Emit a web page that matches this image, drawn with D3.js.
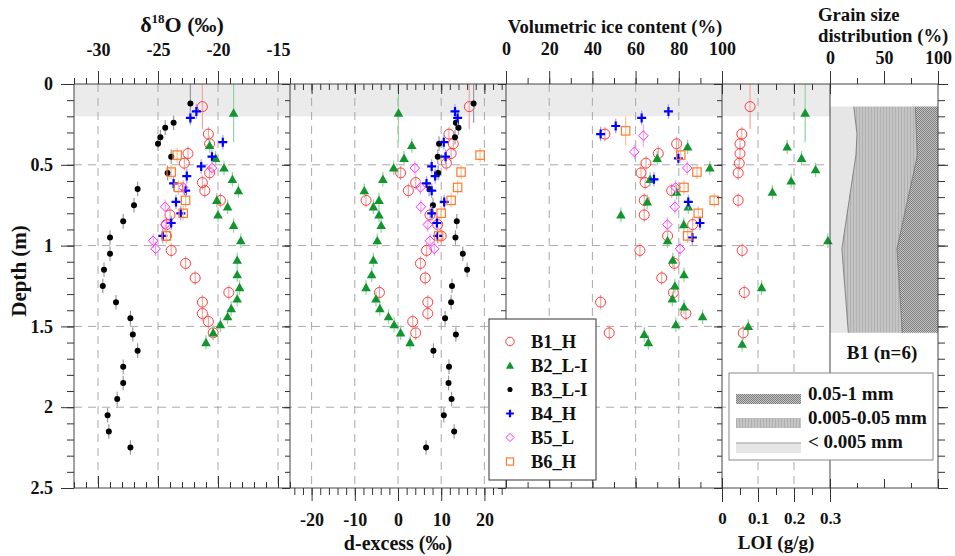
<!DOCTYPE html>
<html>
<head>
<meta charset="utf-8">
<script src="https://cdn.jsdelivr.net/npm/d3@7"></script>
<style>
  body { margin: 0; background: #fff; }
  svg { display: block; }
</style>
</head>
<body>
<svg id="chart" width="955" height="556"></svg>
<script>
// ---- data (depth in m) ----
// B1_H
const b1IsoDepth = [0.14, 0.31, 0.37, 0.43, 0.49, 0.55, 0.61, 0.66, 0.72, 0.81, 0.87, 0.94, 1.03, 1.11, 1.20, 1.29, 1.35, 1.42, 1.47, 1.54];
const b1D18O = [-21.3, -20.8, -20.7, -22.5, -22.8, -20.7, -21.3, -21.1, -19.8, -24.0, -24.3, -24.3, -23.9, -22.7, -21.9, -19.1, -21.3, -21.3, -20.8, -20.4];
const b1Dex = [16.5, 11.8, 12.8, 12.3, 11.2, 0.6, 4.1, 2.4, -7.4, 7.4, 9.2, 10.0, 6.6, 5.2, 6.3, -4.3, 6.9, 6.9, 3.4, 4.1];
const b1IceDepth = [0.31, 0.37, 0.43, 0.49, 0.55, 0.61, 0.66, 0.72, 0.81, 0.87, 0.94, 1.03, 1.11, 1.20, 1.29, 1.35, 1.42, 1.54];
const b1Ice = [45.8, 79.0, 70.5, 64.8, 62.5, 64.4, 76.7, 64.0, 64.0, 86.4, 74.8, 62.0, 77.9, 72.1, 77.5, 43.8, 83.3, 47.8];
const b1LoiDepth = [0.14, 0.31, 0.37, 0.43, 0.49, 0.55, 0.72, 1.03, 1.29, 1.54];
const b1Loi = [0.078, 0.055, 0.05, 0.05, 0.048, 0.045, 0.045, 0.056, 0.062, 0.059];

// B2_L-I
const b2IsoDepth = [0.18, 0.38, 0.46, 0.52, 0.59, 0.66, 0.72, 0.76, 0.81, 0.875, 0.97, 1.09, 1.18, 1.26, 1.33, 1.39, 1.44, 1.49, 1.54, 1.60];
const b2D18O = [-18.7, -20.7, -20.2, -19.5, -18.8, -18.3, -20.1, -19.2, -20.0, -18.7, -18.1, -18.4, -18.4, -18.2, -18.4, -18.9, -19.2, -19.8, -20.4, -21.0];
const b2Dex = [0.1, 3.2, 1.4, -1.0, -3.5, -7.8, -4.4, -5.7, -4.4, -3.9, -4.8, -5.7, -6.1, -7.4, -5.1, -4.2, -2.2, -0.9, 0.6, 2.8];
const b2IceDepth = [0.39, 0.46, 0.52, 0.59, 0.67, 0.73, 0.76, 0.81, 0.87, 0.97, 1.09, 1.18, 1.25, 1.33, 1.38, 1.44, 1.49, 1.55, 1.60];
const b2Ice = [84.1, 70.0, 94.4, 66.7, 79.0, 65.4, 84.4, 53.2, 82.3, 74.8, 77.2, 82.4, 78.2, 77.0, 82.4, 91.0, 78.6, 64.0, 65.9];
const b2LoiDepth = [0.18, 0.39, 0.46, 0.53, 0.60, 0.67, 0.97, 1.26, 1.50, 1.61];
const b2Loi = [0.231, 0.181, 0.221, 0.26, 0.192, 0.14, 0.294, 0.11, 0.073, 0.056];

// B3_L-I
const b3IsoDepth = [0.12, 0.24, 0.27, 0.33, 0.37, 0.45, 0.55, 0.65, 0.75, 0.85, 0.95, 1.05, 1.15, 1.25, 1.35, 1.45, 1.55, 1.65, 1.75, 1.85, 1.95, 2.05, 2.15, 2.25];
const b3D18O = [-22.3, -23.7, -24.4, -24.8, -25.0, -23.9, -24.2, -26.7, -27.0, -27.9, -29.0, -29.0, -29.5, -29.6, -28.5, -27.3, -27.1, -26.7, -27.9, -27.9, -28.4, -29.2, -29.1, -27.3];
const b3Dex = [17.5, 13.4, 14.0, 13.2, 9.5, 9.2, 9.3, 7.2, 8.1, 13.6, 13.3, 15.0, 16.0, 12.5, 12.3, 10.9, 13.4, 8.2, 11.8, 11.7, 12.4, 10.6, 13.0, 6.5];

// B4_H
const b4IsoDepth = [0.17, 0.21, 0.36, 0.45, 0.51, 0.57, 0.615, 0.66, 0.73, 0.80, 0.86, 0.94];
const b4D18O = [-21.8, -22.3, -19.6, -20.5, -21.4, -22.6, -23.7, -22.7, -23.5, -23.1, -23.9, -24.6];
const b4Dex = [13.2, 13.8, 10.6, 11.0, 7.8, 8.6, 6.6, 7.8, 10.7, 7.8, 9.0, 9.2];
const b4IceDepth = [0.17, 0.21, 0.26, 0.31, 0.46, 0.59, 0.73, 0.86, 0.95];
const b4Ice = [75.2, 62.8, 50.8, 43.8, 79.8, 68.5, 84.4, 89.8, 86.3];

// B5_L
const b5IsoDepth = [0.52, 0.64, 0.76, 0.87, 0.97, 1.02];
const b5D18O = [-20.5, -22.9, -24.4, -24.4, -25.4, -25.2];
const b5Dex = [3.9, 5.2, 5.3, 6.9, 7.4, 8.4];
const b5IceDepth = [0.32, 0.42, 0.52, 0.64, 0.76, 0.87, 1.02];
const b5Ice = [63.6, 59.4, 83.9, 78.5, 78.2, 74.7, 80.6];

// B6_H
const b6IsoDepth = [0.44, 0.545, 0.64, 0.72, 0.80, 0.94];
const b6D18O = [-23.4, -23.9, -23.3, -22.7, -22.9, -24.3];
const b6Dex = [19.0, 14.6, 13.8, 12.3, 10.0, 9.4];
const b6IceDepth = [0.29, 0.44, 0.545, 0.64, 0.72, 0.80, 0.94];
const b6Ice = [55.4, 80.9, 88.4, 82.4, 96.4, 89.0, 84.1];

// sample depth half-intervals of the first (surface) samples; others use the default
const firstIsoErr = { B1: 0.14, B2: 0.18, B3: 0.12 };
const firstLoiErr = { B1: 0.14, B2: 0.18 };
const firstIceErr = { B6: 0.09, B5: 0.07 };

// grain size distribution, B1 (n=6)
const gsDepth = [0.14, 0.31, 0.44, 1.02, 1.54];
const gsClay = [22, 25, 24, 11, 17];
const gsSilt = [57, 55, 57, 51, 50];
const gsSand = [21, 20, 19, 38, 33];

const depthTicks = [0, 0.5, 1, 1.5, 2, 2.5];
const d18oTicks = [-30, -25, -20, -15];
const dexTicks = [-20, -10, 0, 10, 20];
const iceTicks = [0, 20, 40, 60, 80, 100];
const loiTicks = [0, 0.1, 0.2, 0.3];
const gsTicks = [0, 50, 100];

//{literal}
const FONT = '"Liberation Serif", "Times New Roman", serif';
const svg = d3.select("#chart");

const y = d3.scaleLinear().domain([0, 2.5]).range([84, 488]);
const xs = {
    d18o: d3.scaleLinear().domain([-32, -14]).range([74, 290]),
    dex: d3.scaleLinear().domain([-25, 25]).range([290, 506]),
    ice: d3.scaleLinear().domain([0, 100]).range([506, 722]),
    loi: d3.scaleLinear().domain([0, 0.3]).range([722, 830]),
    gs: d3.scaleLinear().domain([0, 100]).range([830, 938]),
};
const X0 = 74, X1 = 938, XG = 830;

const steps = (a, b, s) => d3.range(Math.round((b - a) / s) + 1).map(i => +(a + i * s).toFixed(4));

const series = [
    { name: "B1_H", shape: "circle", color: "#ff3b3b", err: "#f6a5a5",
      iso: [b1IsoDepth, b1D18O, b1Dex], ice: [b1IceDepth, b1Ice], loi: [b1LoiDepth, b1Loi] },
    { name: "B2_L-I", shape: "triangle", color: "#12952f", err: "#93d3a0",
      iso: [b2IsoDepth, b2D18O, b2Dex], ice: [b2IceDepth, b2Ice], loi: [b2LoiDepth, b2Loi] },
    { name: "B3_L-I", shape: "dot", color: "#000000", err: "#9a9a9a",
      iso: [b3IsoDepth, b3D18O, b3Dex] },
    { name: "B4_H", shape: "plus", color: "#0000ff", err: "#a0a0ff",
      iso: [b4IsoDepth, b4D18O, b4Dex], ice: [b4IceDepth, b4Ice] },
    { name: "B5_L", shape: "diamond", color: "#ff2bff", err: "#f4a8f4",
      iso: [b5IsoDepth, b5D18O, b5Dex], ice: [b5IceDepth, b5Ice] },
    { name: "B6_H", shape: "square", color: "#ff7b2e", err: "#f9bf96",
      iso: [b6IsoDepth, b6D18O, b6Dex], ice: [b6IceDepth, b6Ice] },
];
const shortName = s => s.name.split("_")[0];

// --- patterns for grain size fills
const defs = svg.append("defs");
const silt = defs.append("pattern").attr("id", "silt").attr("patternUnits", "userSpaceOnUse")
    .attr("width", 3).attr("height", 3);
silt.append("rect").attr("width", 3).attr("height", 3).attr("fill", "#c4c4c4");
silt.append("rect").attr("x", 1).attr("width", 1).attr("height", 3).attr("fill", "#b0b0b0");
const sand = defs.append("pattern").attr("id", "sand").attr("patternUnits", "userSpaceOnUse")
    .attr("width", 2).attr("height", 2);
sand.append("rect").attr("width", 2).attr("height", 2).attr("fill", "#c6c6c6");
sand.append("rect").attr("width", 1).attr("height", 1).attr("fill", "#7c7c7c");
sand.append("rect").attr("x", 1).attr("y", 1).attr("width", 1).attr("height", 1).attr("fill", "#7c7c7c");
const fills = { clay: "#e6e6e6", silt: "url(#silt)", sand: "url(#sand)" };

// --- surface band (0 - 0.2 m)
svg.append("rect")
    .attr("x", X0).attr("y", y(0))
    .attr("width", XG - X0).attr("height", y(0.2) - y(0))
    .attr("fill", "#ebebeb");

// --- grid
const grid = svg.append("g").attr("stroke", "#a9a9a9").attr("stroke-dasharray", "8,6").attr("fill", "none");
[["d18o", d18oTicks], ["dex", dexTicks], ["ice", [20, 40, 60, 80]], ["loi", [0.1, 0.2]]].forEach(([k, vals]) => {
    grid.selectAll(null).data(vals).enter().append("line")
        .attr("x1", d => xs[k](d)).attr("x2", d => xs[k](d))
        .attr("y1", y(0)).attr("y2", y(2.5));
});
grid.selectAll(null).data([0.5, 1, 1.5, 2]).enter().append("line")
    .attr("x1", X0).attr("x2", XG)
    .attr("y1", d => y(d)).attr("y2", d => y(d));

// --- grain size stacked areas
const gsRows = gsDepth.map((d, i) => ({ d, clay: gsClay[i], silt: gsSilt[i], sand: gsSand[i] }));
const gx = xs.gs;
const gArea = (lo, hi) => d3.area().y(r => y(r.d)).x0(r => gx(lo(r))).x1(r => gx(hi(r)));
const gsG = svg.append("g");
gsG.append("path").datum(gsRows).attr("fill", fills.clay)
    .attr("d", gArea(() => 0, r => r.clay));
gsG.append("path").datum(gsRows).attr("fill", fills.silt)
    .attr("d", gArea(r => r.clay, r => r.clay + r.silt));
gsG.append("path").datum(gsRows).attr("fill", fills.sand)
    .attr("d", gArea(r => r.clay + r.silt, r => r.clay + r.silt + r.sand));
[r => r.clay, r => r.clay + r.silt].forEach(f => {
    gsG.append("path").datum(gsRows).attr("fill", "none").attr("stroke", "#6f6f6f").attr("stroke-width", 0.8)
        .attr("d", d3.line().x(r => gx(f(r))).y(r => y(r.d)));
});
svg.append("text").attr("x", (gx(0) + gx(100)) / 2 - 2).attr("y", 359)
    .attr("text-anchor", "middle").attr("font-family", FONT).attr("font-weight", "bold")
    .attr("font-size", 19).attr("fill", "#111").text("B1 (n=6)");

// --- markers
function mark(g, shape, color, s) {
    s = s || 1;
    switch (shape) {
        case "circle":
            return g.append("circle").attr("r", 5 * s).attr("fill", "none")
                .attr("stroke", color).attr("stroke-width", 1);
        case "triangle":
            return g.append("path").attr("d", d3.symbol(d3.symbolTriangle, 40 * s * s)())
                .attr("transform", "translate(0,0.8)").attr("fill", color);
        case "dot":
            return g.append("circle").attr("r", 3 * s).attr("fill", color);
        case "plus": {
            const h = 4.5 * s;
            return g.append("path").attr("d", `M${-h},0H${h}M0,${-h}V${h}`)
                .attr("stroke", color).attr("stroke-width", 2.2).attr("fill", "none");
        }
        case "diamond": {
            const h = 4.8 * s;
            return g.append("path").attr("d", `M0,${-h}L${h},0L0,${h}L${-h},0Z`)
                .attr("stroke", color).attr("stroke-width", 1).attr("fill", "none");
        }
        case "square": {
            const h = 4.2 * s;
            return g.append("rect").attr("x", -h).attr("y", -h).attr("width", 2 * h).attr("height", 2 * h)
                .attr("stroke", color).attr("stroke-width", 1.2).attr("fill", "none");
        }
    }
}

function plotPanel(scale, depths, values, s, firstErr) {
    const pts = depths.map((d, i) => ({ d, v: values[i], e: i === 0 && firstErr ? firstErr : 0.045 }))
        .filter(p => p.v != null);
    const eg = svg.append("g").attr("stroke", s.err).attr("stroke-width", 1.2);
    eg.selectAll("line").data(pts).enter().append("line")
        .attr("x1", p => scale(p.v)).attr("x2", p => scale(p.v))
        .attr("y1", p => y(Math.max(0, p.d - p.e))).attr("y2", p => y(p.d + p.e));
    const mg = svg.append("g");
    pts.forEach(p => {
        const g = mg.append("g").attr("transform", `translate(${scale(p.v)},${y(p.d)})`);
        mark(g, s.shape, s.color);
    });
}

series.forEach(s => {
    const k = shortName(s);
    plotPanel(xs.d18o, s.iso[0], s.iso[1], s, firstIsoErr[k]);
    plotPanel(xs.dex, s.iso[0], s.iso[2], s, firstIsoErr[k]);
    if (s.ice) plotPanel(xs.ice, s.ice[0], s.ice[1], s, firstIceErr[k]);
    if (s.loi) plotPanel(xs.loi, s.loi[0], s.loi[1], s, firstLoiErr[k]);
});

// --- frame
const frame = svg.append("g").attr("stroke", "#444").attr("stroke-width", 1).attr("fill", "none");
frame.append("line").attr("x1", X0).attr("x2", X1).attr("y1", y(0)).attr("y2", y(0));
frame.append("line").attr("x1", X0).attr("x2", X1).attr("y1", y(2.5)).attr("y2", y(2.5));
[X0, 290, 506, 722, XG, X1].forEach(x => {
    frame.append("line").attr("x1", x).attr("x2", x).attr("y1", y(0)).attr("y2", y(2.5));
});

// --- axes (tick marks through d3.axis)
function axis(gen, scale, values, size, at, fmt, pad, fs) {
    const isH = gen === d3.axisTop || gen === d3.axisBottom;
    const g = svg.append("g").attr("transform", isH ? `translate(0,${at})` : `translate(${at},0)`);
    g.call(gen(scale).tickValues(values).tickSizeInner(size).tickSizeOuter(0)
        .tickPadding(pad || 3).tickFormat(fmt || (() => "")));
    g.select(".domain").remove();
    g.attr("font-family", FONT).attr("font-size", fs || 18).attr("font-weight", "bold");
    g.selectAll(".tick line").attr("stroke", "#333");
    g.selectAll(".tick text").attr("fill", "#111");
    return g;
}
const lab = d => String(d);
const yTop = y(0), yBot = y(2.5);

// depth axes
axis(d3.axisLeft, y, steps(0, 2.5, 0.1), 7, X0);
axis(d3.axisLeft, y, depthTicks, 13, X0, lab, 8, 18);
[290, 506, 722].forEach(x => {
    axis(d3.axisRight, y, steps(0, 2.5, 0.1), -5, x);
    axis(d3.axisRight, y, depthTicks, -8, x);
});
axis(d3.axisRight, y, steps(0, 2.5, 0.1), 7, X1);
axis(d3.axisRight, y, depthTicks, 10, X1);

// panel 1: d18O (top labels), bottom inward
axis(d3.axisTop, xs.d18o, steps(-32, -14, 1), 6, yTop);
axis(d3.axisTop, xs.d18o, d18oTicks, 13, yTop, lab, 15);
axis(d3.axisBottom, xs.d18o, steps(-32, -14, 1), -6, yBot);
axis(d3.axisBottom, xs.d18o, d18oTicks, -12, yBot);

// panel 2: d-excess (bottom labels), top inward
axis(d3.axisTop, xs.dex, steps(-24, 24, 2), -6, yTop);
axis(d3.axisTop, xs.dex, dexTicks, -10, yTop);
axis(d3.axisBottom, xs.dex, steps(-24, 24, 2), 7, yBot);
axis(d3.axisBottom, xs.dex, dexTicks, 13, yBot, lab, 12);

// panel 3: ice content (top labels), bottom inward
axis(d3.axisTop, xs.ice, steps(0, 100, 10), 6, yTop);
axis(d3.axisTop, xs.ice, iceTicks, 13, yTop, lab, 16);
axis(d3.axisBottom, xs.ice, steps(0, 100, 10), -6, yBot);
axis(d3.axisBottom, xs.ice, iceTicks, -10, yBot);

// panel 4: LOI (bottom labels), top inward
axis(d3.axisTop, xs.loi, steps(0, 0.3, 0.05), -6, yTop);
axis(d3.axisTop, xs.loi, loiTicks, -10, yTop);
axis(d3.axisBottom, xs.loi, steps(0, 0.3, 0.05), 7, yBot);
axis(d3.axisBottom, xs.loi, loiTicks, 14, yBot, lab, 10, 17);

// panel 5: grain size (top labels), bottom inward
axis(d3.axisTop, xs.gs, [25, 75], 6, yTop);
axis(d3.axisTop, xs.gs, gsTicks, 13, yTop, lab, 7);
axis(d3.axisBottom, xs.gs, [25, 75], -5, yBot);
axis(d3.axisBottom, xs.gs, gsTicks, -9, yBot);

// --- titles
const title = (x, yy, fs, txt, anchor) => svg.append("text").attr("x", x).attr("y", yy)
    .attr("text-anchor", anchor || "middle").attr("font-family", FONT).attr("font-weight", "bold")
    .attr("font-size", fs).attr("fill", "#111").text(txt);

const t18 = svg.append("text").attr("x", 182).attr("y", 32).attr("text-anchor", "middle")
    .attr("font-family", FONT).attr("font-weight", "bold").attr("font-size", 22).attr("fill", "#111");
t18.append("tspan").text("δ");
t18.append("tspan").attr("font-size", 13).attr("dy", -9).text("18");
t18.append("tspan").attr("dy", 9).text("O (‰)");

title(615, 33, 18.7, "Volumetric ice content (%)");
title(818, 21, 18.7, "Grain size", "start");
title(818, 42, 18.7, "distribution (%)", "start");
title(398, 550, 20, "d-excess (‰)");
title(776, 549, 19, "LOI (g/g)");
svg.append("text").attr("transform", "translate(26,271) rotate(-90)")
    .attr("text-anchor", "middle").attr("font-family", FONT).attr("font-weight", "bold")
    .attr("font-size", 21).attr("fill", "#111").text("Depth (m)");

// --- series legend
const lg = svg.append("g").attr("transform", "translate(489,319)");
lg.append("rect").attr("width", 107).attr("height", 161).attr("fill", "#fff")
    .attr("stroke", "#333").attr("stroke-width", 1);
series.forEach((s, i) => {
    const row = lg.append("g").attr("transform", `translate(0,${22.5 + i * 24})`);
    mark(row.append("g").attr("transform", "translate(21,0)"), s.shape, s.color, 0.85);
    row.append("text").attr("x", 42).attr("dy", "0.35em")
        .attr("font-family", FONT).attr("font-weight", "bold").attr("font-size", 18.5)
        .attr("fill", "#111").text(s.name);
});

// --- grain size legend
const gl = svg.append("g").attr("transform", "translate(729,373)");
gl.append("rect").attr("width", 204).attr("height", 87).attr("fill", "#fff")
    .attr("stroke", "#888").attr("stroke-width", 1);
[["sand", "0.05-1 mm", 21, 27], ["silt", "0.005-0.05 mm", 45, 51], ["clay", "< 0.005 mm", 70, 75]].forEach(([k, txt, ry, ty]) => {
    gl.append("rect").attr("x", 7).attr("y", ry).attr("width", 65).attr("height", 10).attr("fill", fills[k]);
    if (k === "clay") {
        gl.append("line").attr("x1", 7).attr("x2", 72).attr("y1", ry).attr("y2", ry)
            .attr("stroke", "#9a9a9a").attr("stroke-width", 1.2);
    }
    gl.append("text").attr("x", 79).attr("y", ty)
        .attr("font-family", FONT).attr("font-weight", "bold").attr("font-size", 19)
        .attr("fill", "#111").text(txt);
});
//{/literal}
</script>
</body>
</html>
